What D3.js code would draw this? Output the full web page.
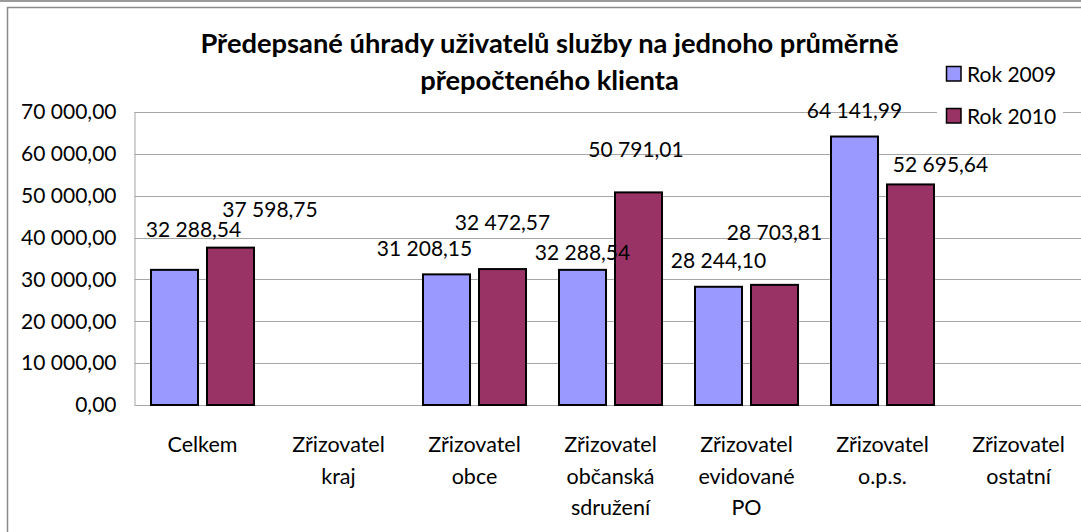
<!DOCTYPE html>
<html>
<head>
<meta charset="utf-8">
<script src="https://cdn.jsdelivr.net/npm/d3@7"></script>
<style>
  html, body { margin: 0; padding: 0; background: #fff; }
  svg { display: block; font-family: Lato, "Noto Sans", sans-serif; }
</style>
</head>
<body>
<svg id="chart" width="1081" height="532"></svg>
<script>
// ---- data ----
const titleLines = ["Předepsané úhrady uživatelů služby na jednoho průměrně", "přepočteného klienta"];
const categories = ["Celkem", "Zřizovatel kraj", "Zřizovatel obce", "Zřizovatel občanská sdružení", "Zřizovatel evidované PO", "Zřizovatel o.p.s.", "Zřizovatel ostatní"];
const seriesNames = ["Rok 2009", "Rok 2010"];
const values2009 = [32288.54, null, 31208.15, 32288.54, 28244.10, 64141.99, null];
const values2010 = [37598.75, null, 32472.57, 50791.01, 28703.81, 52695.64, null];
const yTicks = [0, 10000, 20000, 30000, 40000, 50000, 60000, 70000];

// ---- styling / layout (label nudges as in the source, manually moved labels) ----
const colors = ["#9999FF", "#993366"];
const labelNudge2009 = [[19, 33], null, [-22, 18], [0, 10], [0, 19], [0, 19], null];
const labelNudge2010 = [[39.5, 31], null, [0, 39], [-2.5, 35], [0, 45], [30, 12], null];

const czech = d3.formatLocale({decimal: ",", thousands: "\u00a0", grouping: [3], currency: ["", " Kč"]});
const fmt = czech.format(",.2f");

const svg = d3.select("#chart");
const W = 1081, H = 532;
const plot = {left: 134.5, right: 1086.5, top: 112, bottom: 405};

// page line and chart border
svg.append("line").attr("x1", 0).attr("x2", W).attr("y1", 1).attr("y2", 1)
  .attr("stroke", "#9a9a9a").attr("stroke-width", 2);
svg.append("rect").attr("x", 7.5).attr("y", 7.5).attr("width", W + 20).attr("height", H + 20)
  .attr("fill", "#fff").attr("stroke", "#8a8a8a").attr("stroke-width", 1.5);

const x0 = d3.scaleBand().domain(categories).range([plot.left, plot.right]).paddingInner(0).paddingOuter(0);
const step = x0.step();
const groupPad = (step - 103) / 2;
const x1 = d3.scaleBand().domain(seriesNames).range([groupPad, step - groupPad]).paddingInner(9 / 56).paddingOuter(0);
const y = d3.scaleLinear().domain([0, 70000]).range([plot.bottom, plot.top]);

// gridlines
svg.append("g").selectAll("line").data(yTicks).join("line")
  .attr("x1", plot.left).attr("x2", plot.right)
  .attr("y1", d => Math.round(y(d)) + 0.5).attr("y2", d => Math.round(y(d)) + 0.5)
  .attr("stroke", "#a6a6a6").attr("stroke-width", 1);
// left axis line
svg.append("line").attr("x1", plot.left + 0.5).attr("x2", plot.left + 0.5)
  .attr("y1", plot.top).attr("y2", plot.bottom)
  .attr("stroke", "#a6a6a6").attr("stroke-width", 1);

// y axis labels
const yAxis = d3.axisLeft(y).tickValues(yTicks).tickFormat(fmt).tickSize(0).tickPadding(18);
const yg = svg.append("g").attr("transform", `translate(${plot.left},0)`).call(yAxis);
yg.select(".domain").remove();
yg.selectAll("text").attr("font-size", 21).attr("fill", "#000").attr("font-family", "Lato, sans-serif");

// x axis labels
const xAxis = d3.axisBottom(x0).tickSize(0).tickFormat("");
const xg = svg.append("g").attr("transform", `translate(0,${plot.bottom})`).call(xAxis);
xg.select(".domain").attr("stroke", "#a6a6a6");
xg.selectAll(".tick").each(function(d) {
  const parts = d.split(" ");
  const t = d3.select(this).append("text").attr("text-anchor", "middle")
    .attr("font-size", 21.5).attr("fill", "#000").attr("font-family", "Lato, sans-serif");
  parts.forEach((p, i) => t.append("tspan").attr("x", 0).attr("y", 47 + i * 31.5).text(p));
});

// bars
const series = [values2009, values2010];
const nudges = [labelNudge2009, labelNudge2010];
series.forEach((vals, si) => {
  const g = svg.append("g");
  const data = categories.map((c, i) => ({c, v: vals[i], n: nudges[si][i]})).filter(d => d.v != null);
  g.selectAll("rect").data(data).join("rect")
    .attr("x", d => x0(d.c) + x1(seriesNames[si]))
    .attr("y", d => y(d.v))
    .attr("width", x1.bandwidth())
    .attr("height", d => y(0) - y(d.v))
    .attr("fill", colors[si]).attr("stroke", "#000").attr("stroke-width", 2);
});

// legend background and items
svg.append("rect").attr("x", 937).attr("y", 56).attr("width", 126).attr("height", 76).attr("fill", "#fff");
seriesNames.forEach((s, i) => {
  const ly = 66 + i * 42;
  svg.append("rect").attr("x", 946.5).attr("y", ly + 0.5).attr("width", 14.5).attr("height", 14.5)
    .attr("fill", colors[i]).attr("stroke", "#000").attr("stroke-width", 1.5);
  svg.append("text").attr("x", 967).attr("y", ly + 16).attr("font-size", 21).attr("fill", "#000").text(s);
});

// data labels
series.forEach((vals, si) => {
  const data = categories.map((c, i) => ({c, v: vals[i], n: nudges[si][i]})).filter(d => d.v != null);
  svg.append("g").selectAll("text").data(data).join("text")
    .attr("x", d => x0(d.c) + x1(seriesNames[si]) + x1.bandwidth() / 2 + d.n[0])
    .attr("y", d => y(d.v) - d.n[1])
    .attr("text-anchor", "middle").attr("font-size", 21).attr("fill", "#000")
    .text(d => fmt(d.v));
});

// title
const tt = svg.append("text").attr("text-anchor", "middle").attr("font-weight", "bold")
  .attr("font-size", 27.3).attr("fill", "#000");
titleLines.forEach((l, i) => tt.append("tspan").attr("x", 549.5).attr("y", 53 + i * 37).text(l));
</script>
</body>
</html>
